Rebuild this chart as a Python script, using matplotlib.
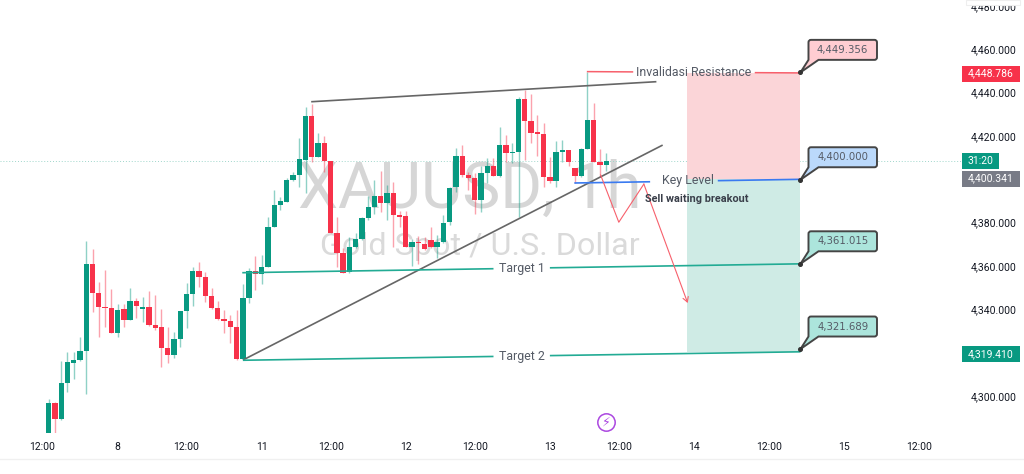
# -*- coding: utf-8 -*-
import matplotlib
matplotlib.use("Agg")
import matplotlib.pyplot as plt
from matplotlib.patches import Rectangle, PathPatch
from matplotlib.path import Path
from matplotlib.transforms import IdentityTransform, blended_transform_factory

plt.rcParams['font.family'] = ['Roboto', 'DejaVu Sans']

# hourly candles, XAUUSD
opens = [4282.8,4296.8,4289.5,4305.9,4315.4,4316.6,4320.9,4360.9,4347.7,4341.1,
         4340.8,4328.9,4340.0,4335.1,4343.7,4340.0,4340.9,4332.6,4331.8,4322.2,
         4319.1,4326.2,4339.1,4346.9,4357.7,4354.9,4346.1,4340.6,4335.4,4334.5,
         4332.0,4317.2,4345.1,4357.8,4356.3,4359.7,4378.1,4388.0,4389.4,4399.7,
         4402.0,4408.9,4429.3,4410.4,4416.6,4408.4,4375.0,4366.1,4357.4,4368.6,
         4372.3,4382.3,4387.4,4392.1,4388.9,4393.7,4383.5,4383.0,4368.6,4370.9,
         4370.3,4372.0,4368.6,4371.0,4380.1,4396.3,4410.9,4402.0,4400.6,4390.5,
         4403.1,4406.1,4401.4,4415.7,4412.3,4412.5,4436.9,4427.1,4421.8,4420.9,
         4401.1,4399.2,4412.8,4413.5,4405.4,4401.4,4414.0,4427.4,4408.2,4406.6]
highs = [4298.6,4297.4,4316.3,4320.5,4320.5,4327.4,4371.5,4367.7,4352.8,4358.1,
         4349.2,4342.5,4342.5,4349.8,4345.1,4345.8,4348.4,4346.6,4340.2,4332.0,
         4329.4,4339.2,4352.0,4359.4,4361.7,4357.4,4349.7,4343.8,4339.7,4337.4,
         4339.7,4351.5,4358.9,4364.6,4365.1,4382.7,4395.0,4392.0,4400.4,4403.5,
         4418.9,4433.5,4434.7,4421.2,4420.0,4408.4,4382.4,4368.1,4373.5,4375.0,
         4382.7,4392.3,4399.7,4404.0,4397.4,4398.6,4385.4,4385.5,4372.3,4373.8,
         4373.5,4377.8,4374.3,4383.5,4396.6,4414.3,4415.8,4403.5,4402.8,4406.1,
         4409.7,4409.7,4424.0,4420.5,4416.6,4437.8,4441.2,4439.4,4429.7,4425.8,
         4410.5,4417.7,4418.1,4413.5,4405.4,4414.3,4449.7,4435.1,4413.8,4412.0]
lows = [4282.8,4282.8,4288.9,4302.0,4307.9,4316.3,4300.8,4338.9,4327.4,4332.0,
        4328.9,4327.4,4332.0,4335.1,4335.8,4334.3,4332.3,4330.5,4313.2,4315.1,
        4317.4,4322.8,4331.5,4341.7,4350.1,4343.5,4340.1,4335.1,4328.9,4324.3,
        4316.6,4317.2,4343.1,4348.9,4351.7,4359.7,4378.1,4385.8,4389.4,4399.4,
        4396.3,4393.5,4407.8,4410.1,4403.5,4375.0,4359.4,4356.6,4356.9,4368.1,
        4372.0,4381.2,4383.8,4385.0,4381.2,4368.9,4378.1,4368.6,4360.1,4360.9,
        4367.4,4368.1,4363.5,4370.4,4378.9,4394.3,4400.9,4395.1,4383.9,4385.1,
        4398.2,4401.4,4401.2,4408.2,4407.7,4382.8,4408.9,4416.6,4410.8,4396.3,
        4398.5,4396.3,4408.2,4406.1,4398.5,4401.2,4413.8,4408.2,4401.2,4404.0]
closes = [4296.8,4289.5,4305.9,4315.5,4316.6,4320.9,4360.9,4347.7,4340.9,4340.6,
          4328.9,4339.7,4335.1,4343.7,4341.4,4340.9,4332.6,4331.5,4322.2,4319.1,
          4326.2,4339.1,4346.9,4357.8,4354.9,4346.1,4340.6,4335.4,4334.5,4332.0,
          4317.2,4345.1,4357.8,4356.3,4359.7,4378.1,4388.0,4390.0,4399.7,4402.1,
          4409.2,4429.3,4410.4,4416.6,4408.4,4375.0,4365.8,4356.9,4368.9,4372.3,
          4382.3,4387.4,4392.1,4389.0,4393.7,4383.5,4382.7,4368.6,4371.2,4370.4,
          4367.8,4368.6,4371.0,4380.0,4396.1,4410.8,4402.0,4400.6,4390.5,4403.1,
          4406.1,4401.4,4415.7,4412.3,4412.6,4436.9,4426.9,4421.5,4420.8,4401.1,
          4399.2,4412.8,4413.5,4408.2,4401.4,4414.2,4427.4,4408.2,4406.6,4408.5]

x_ticks = [-1, 11, 22, 34, 45, 57, 68, 80, 91, 103, 115, 127, 139]
x_labels = ['12:00','8','12:00','11','12:00','12','12:00','13','12:00','14','12:00','15','12:00']
# 4,320 and 4,400 sit behind the price tags
y_ticks = [4300,4340,4360,4380,4420,4440,4460,4480]
y_labels = ['4,300.000','4,340.000','4,360.000','4,380.000',
            '4,420.000','4,440.000','4,460.000','4,480.000']

green = '#089981'
red = '#F7324A'
grey_line = '#666666'
teal_line = '#22AB94'
blue_line = '#3A7AF0'
red_line = '#F7606C'

fig = plt.figure(figsize=(10.24, 4.74), dpi=100, facecolor='w')
ax = fig.add_axes([0, 41/474, 962/1024, 433/474])
ax.set_xlim(-7.77, 145.78)
ax.set_ylim(4282.93, 4482.75)
for s in ax.spines:
    ax.spines[s].set_visible(False)
ax.yaxis.tick_right()
ax.set_xticks(x_ticks)
ax.set_xticklabels(x_labels)
ax.set_yticks(y_ticks)
ax.set_yticklabels(y_labels)
ax.tick_params(axis='x', length=0, pad=6.5, labelsize=7.5, labelcolor='#131722')
ax.tick_params(axis='y', length=0, pad=6, labelsize=7.5, labelcolor='#131722')

# watermark
ax.text(39.8, 4386.8, 'XAUUSD, 1h', fontsize=46, color='#d6d6d6', va='baseline', zorder=0)
ax.text(43.3, 4365, 'Gold Spot / U.S. Dollar', fontsize=23.3, color='#dadada', va='baseline', zorder=0)

# last-price dotted line
ax.axhline(4408.5, color='#9fd6cb', lw=0.7, ls=(0, (1, 2)), zorder=0.5)

# long/short zones
ax.add_patch(Rectangle((101.9, 4400), 18.1, 49.2, fc='#FBD5D8', ec='none', zorder=1))
ax.add_patch(Rectangle((101.9, 4320.3), 18.1, 79.7, fc='#CFEBE5', ec='none', zorder=1))

# candles
idx = list(range(len(opens)))
for i in idx:
    c = green if closes[i] >= opens[i] else red
    ax.vlines(i, lows[i], highs[i], color=c, lw=1.0, alpha=0.45, zorder=2)
    ax.bar(i, abs(closes[i]-opens[i]), bottom=min(opens[i], closes[i]), width=0.85,
           color=c, lw=0, zorder=3)


def gap_line(x0, y0, x1, y1, color, gap=None, lw=1.2):
    if gap is None:
        ax.plot([x0, x1], [y0, y1], color=color, lw=lw, zorder=4, solid_capstyle='butt')
        return
    m = (y1-y0)/(x1-x0)
    ax.plot([x0, gap[0]], [y0, y0+m*(gap[0]-x0)], color=color, lw=lw, zorder=4, solid_capstyle='butt')
    ax.plot([gap[1], x1], [y0+m*(gap[1]-x0), y1], color=color, lw=lw, zorder=4, solid_capstyle='butt')


# trend lines
gap_line(41.9, 4435.8, 97.0, 4445.05, grey_line)
gap_line(31.0, 4316.6, 98.0, 4415.8, grey_line)

# levels, with the label sitting in a break of the line
gap_line(85.9, 4449.7, 120.0, 4449.1, red_line, gap=(93.3, 112.7), lw=1.1)
gap_line(83.9, 4398.3, 120.0, 4400.0, blue_line, gap=(96.0, 106.8))
gap_line(30.9, 4356.9, 120.0, 4361.0, teal_line, gap=(71.0, 80.0))
gap_line(31.0, 4316.5, 120.0, 4320.4, teal_line, gap=(71.0, 80.0))

lab = dict(color='#555b66', fontsize=8.9, ha='center', va='center', zorder=5)
ax.text(103.0, 4449.4, 'Invalidasi Resistance', **lab)
ax.text(102.0, 4399.3, 'Key Level', **lab)
ax.text(75.5, 4358.8, 'Target 1', **lab)
ax.text(75.5, 4318.3, 'Target 2', **lab)
ax.text(95.2, 4390.9, 'Sell waiting breakout', color='#3a3f4a', fontsize=7.8, fontweight='bold',
        ha='left', va='center', zorder=5)

# projected path
path_x = [88.1, 91.0, 95.0]
path_y = [4402.0, 4380.2, 4397.8]
ax.plot(path_x, path_y, color=red_line, lw=0.8, zorder=4)
ax.annotate('', xy=(102.0, 4342.9), xytext=(95.0, 4397.8), zorder=4,
            arrowprops=dict(arrowstyle='->,head_length=0.35,head_width=0.2', color=red_line, lw=0.8,
                            shrinkA=0, shrinkB=0))


def callout(x, y, txt, fc):
    # box with tail, built in pixels from the anchor point
    px, py = ax.transData.transform((x, y))
    l, r, b, t, k = px+8, px+76.5, py+12.5, py+32.5, 2.5
    verts = [(px, py), (l, b), (l, t-k), (l, t), (l+k, t), (r-k, t), (r, t), (r, t-k),
             (r, b+k), (r, b), (r-k, b), (px+18, b), (px, py)]
    codes = [Path.MOVETO, Path.LINETO, Path.LINETO, Path.CURVE3, Path.CURVE3, Path.LINETO,
             Path.CURVE3, Path.CURVE3, Path.LINETO, Path.CURVE3, Path.CURVE3, Path.LINETO,
             Path.CLOSEPOLY]
    ax.add_patch(PathPatch(Path(verts, codes), fc=fc, ec='#454545', lw=1.4,
                           transform=IdentityTransform(), clip_on=False, zorder=6))
    ax.plot([x], [y], 'o', color='#333333', ms=2.6, zorder=7, clip_on=False)
    ax.text((l+r)/2, (b+t)/2, txt, transform=IdentityTransform(), ha='center', va='center',
            color='#555b66', fontsize=7.3, family='DejaVu Sans', zorder=7)


callout(120.0, 4449.356, '4,449.356', '#FFCDD2')
callout(120.0, 4399.8, '4,400.000', '#BBD9FB')
callout(120.0, 4361.015, '4,361.015', '#ACE5DC')
callout(120.0, 4321.689, '4,321.689', '#ACE5DC')

# price tags on the scale
trans = blended_transform_factory(ax.transAxes, ax.transData)


def tag(y, txt, fc, w=57.5):
    ax.add_patch(Rectangle((1, y-3.7), w/962, 7.4, fc=fc, ec='none', transform=trans,
                           clip_on=False, zorder=8))
    ax.text(1+w/2/962, y, txt, color='w', fontsize=7.5, ha='center', va='center',
            transform=trans, clip_on=False, zorder=9)


tag(4448.786, '4,448.786', '#F7324A')
tag(4408.5, '31:20', green, w=37)
tag(4400.341, '4,400.341', '#787B86')
tag(4319.41, '4,319.410', green)

# lightning marker
ax.plot([89], [4288], 'o', ms=12.5, mfc='w', mec='#AB47E0', mew=1.1, zorder=5, clip_on=False)
ax.text(89, 4288, '\u26a1', color='#AB47E0', fontsize=9, ha='center', va='center',
        family='DejaVu Sans', zorder=6, clip_on=False)

# toolbar box over the top label and bottom rule
fig.add_artist(Rectangle((966/1024, 1-5/474), 54/1024, 5/474, fc='w', ec='#eeeeee', lw=0.8,
                         transform=fig.transFigure, zorder=10))
fig.add_artist(plt.Line2D([0, 1], [1-459/474, 1-459/474], color='#f0f0f0', lw=1,
                          transform=fig.transFigure))

fig.savefig('out.png', dpi=100, facecolor='w')
